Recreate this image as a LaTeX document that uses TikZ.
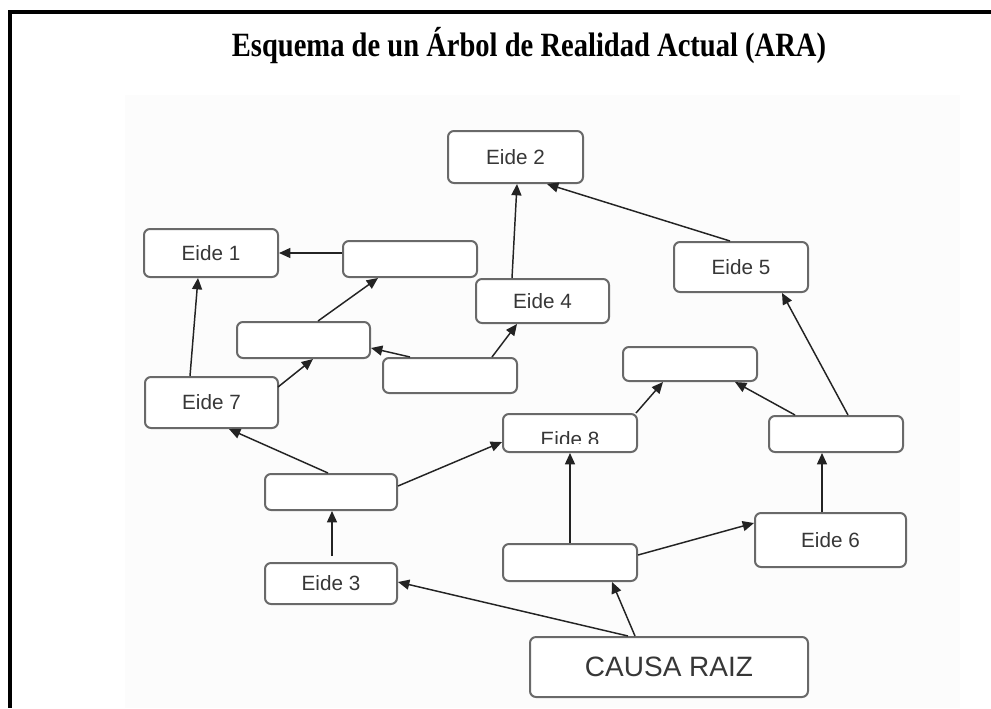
\documentclass[tikz,border=0pt]{standalone}
\usepackage{fontspec}
\setmainfont{Liberation Serif}
\newfontfamily\boxfont{Liberation Sans}
\usetikzlibrary{arrows.meta,calc}
\definecolor{boxline}{RGB}{105,105,105}
\definecolor{boxtext}{RGB}{55,55,55}
\definecolor{linkline}{RGB}{35,35,35}
\begin{document}
\begin{tikzpicture}[x=0.75pt,y=-0.75pt,
  box/.style={draw=boxline,line width=1.5pt,rounded corners=4.5pt,fill=white,
    inner sep=0pt,text=boxtext,font=\boxfont\fontsize{15.5}{18}\selectfont},
  bx/.style 2 args={box,minimum width=#1*0.75pt,minimum height=#2*0.75pt},
  link/.style={draw=linkline,line width=1.1pt,-{Triangle[length=8.5pt,width=7.5pt]}}]
\useasboundingbox (0,0) rectangle (991,708);
\fill[white] (0,0) rectangle (991,708);
\fill[black!1] (125,95) rectangle (960,708);
% frame (top and left edges)
\draw[line width=3pt] (991,12) -- (9.5,12) -- (9.5,708);
% title
\node[font=\bfseries\fontsize{25.5}{28}\selectfont] (title) at (529,46)
  {\scalebox{0.84}[1]{Esquema de un Árbol de Realidad Actual (ARA)}};
% boxes
\node[bx={135}{52}] (e2) at (515.5,157) {Eide 2};
\node[bx={134}{48}] (e1) at (211,253) {Eide 1};
\node[bx={134}{36}] (ba) at (410,259) {};
\node[bx={133}{44}] (e4) at (542.5,301) {Eide 4};
\node[bx={133}{36}] (bb) at (303.5,340) {};
\node[bx={134}{35}] (bc) at (450,375.5) {};
\node[bx={133}{51}] (e7) at (211.5,402.5) {Eide 7};
\node[bx={134}{50}] (e5) at (741,267) {Eide 5};
\node[bx={134}{34}] (bd) at (690,364) {};
\node[bx={134}{38}] (e8) at (570,433) {};
\node[bx={134}{36}] (bg) at (836,434) {};
\node[bx={132}{36}] (be) at (331,492) {};
\node[bx={132}{41}] (e3) at (331,583.5) {Eide 3};
\node[bx={134}{37}] (bf) at (570,562.5) {};
\node[bx={151}{54}] (e6) at (830.5,540) {Eide 6};
\node[bx={278}{60},font=\boxfont\fontsize{21}{24}\selectfont] (cr) at (669,667) {CAUSA RAIZ};
% label of Eide 8, cut off at its lower edge
\begin{scope}
  \clip (e8.north west) rectangle ([shift={(0,-10)}]e8.south east);
  \node[text=boxtext,font=\boxfont\fontsize{15.5}{18}\selectfont] (e8label) at ([shift={(0,6.5)}]e8.center) {Eide 8};
\end{scope}
% connectors
\draw[link] (ba.west |- e1.east) -- (e1.east);
\draw[link] ([shift={(-21.5,0)}]e7.north) -- ([shift={(-13,0)}]e1.south);
\draw[link] ([shift={(14.5,0)}]bb.north) -- ([shift={(-32,0)}]ba.south);
\draw[link] ([shift={(-1,-15.5)}]e7.east) -- ([shift={(9.5,0)}]bb.south);
\draw[link] ([shift={(-40,0)}]bc.north) -- ([shift={(0,8)}]bb.east);
\draw[link] ([shift={(42,0)}]bc.north) -- ([shift={(-25.5,0)}]e4.south);
\draw[link] ([shift={(-30.5,0)}]e4.north) -- ([shift={(1.5,0)}]e2.south);
\draw[link] ([shift={(-11,0)}]e5.north) -- ([shift={(31.5,0)}]e2.south);
\draw[link] ([shift={(12,0)}]bg.north) -- ([shift={(41,0)}]e5.south);
\draw[link] ([shift={(-41,0)}]bg.north) -- ([shift={(45,0)}]bd.south);
\draw[link] ([shift={(-2,0)}]e8.north east) -- ([shift={(-27,0)}]bd.south);
\draw[link] ([shift={(-3,0)}]be.north) -- ([shift={(17.5,0)}]e7.south);
\draw[link] ([shift={(0,-6)}]be.east) -- ([shift={(0,9)}]e8.west);
\draw[link] ([shift={(1,-6)}]e3.north) -- ([shift={(1,0)}]be.south);
\draw[link] (bf.north) -- (e8.south);
\draw[link] ([shift={(0,-7.5)}]bf.east) -- ([shift={(0,-17)}]e6.west);
\draw[link] ([shift={(-8.5,0)}]e6.north) -- ([shift={(-14,0)}]bg.south);
\draw[link] ([shift={(-34,0)}]cr.north) -- ([shift={(42,0)}]bf.south);
\draw[link] ([shift={(-41,0)}]cr.north) -- ([shift={(0,-1.5)}]e3.east);
\end{tikzpicture}
\end{document}
